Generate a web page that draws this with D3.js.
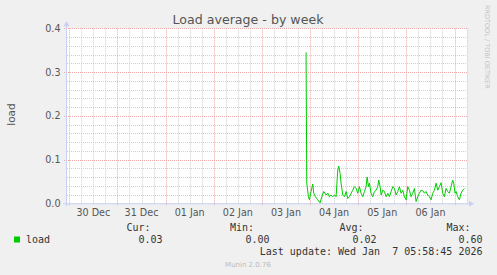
<!DOCTYPE html>
<html><head><meta charset="utf-8">
<script src="https://cdn.jsdelivr.net/npm/d3@7/dist/d3.min.js"></script>
<style>html,body{margin:0;padding:0;background:#f0f0f0;}svg{display:block;}</style>
</head><body>
<script>
// ---- data ----
const title = "Load average - by week";
const dayLabels = ["30 Dec","31 Dec","01 Jan","02 Jan","03 Jan","04 Jan","05 Jan","06 Jan"];
const yTicks = [0.0, 0.1, 0.2, 0.3, 0.4];
// hours since 2026-01-03 00:00
const hours = [22.0,22.35,23.18,23.68,24.51,25.34,25.84,26.67,27.83,29.0,29.83,30.82,31.99,32.82,33.65,34.48,35.31,36.14,36.97,37.8,38.3,38.97,39.47,40.3,41.13,41.96,42.79,43.62,44.45,45.28,46.11,46.94,47.77,48.6,49.43,50.26,51.1,51.93,52.43,53.1,53.59,54.42,55.25,56.08,56.91,57.74,58.24,58.91,59.41,60.24,61.07,61.9,62.73,63.56,64.39,65.22,66.05,66.88,67.71,68.54,69.37,70.2,71.03,71.86,72.69,73.52,74.35,75.18,76.01,76.84,77.67,78.5,79.33,80.16,80.99,81.82,82.65,83.48,84.31,85.14,85.97,86.8,87.63,88.46,89.29,90.12,90.95,91.78,92.61,93.44,94.27,95.1,95.6,96.26,96.76,97.59,98.42,99.25,100.08,100.91];
const loads = [0.345,0.046,0.015,0.008,0.027,0.044,0.023,0.015,0.008,0.001,0.015,0.027,0.019,0.023,0.015,0.019,0.015,0.019,0.015,0.076,0.085,0.068,0.046,0.019,0.015,0.027,0.011,0.015,0.023,0.030,0.038,0.034,0.023,0.038,0.023,0.015,0.027,0.038,0.060,0.038,0.046,0.023,0.015,0.027,0.030,0.038,0.053,0.038,0.019,0.030,0.027,0.015,0.023,0.015,0.027,0.038,0.034,0.019,0.027,0.038,0.023,0.030,0.015,0.008,0.038,0.030,0.015,0.023,0.034,0.004,0.015,0.023,0.030,0.029,0.023,0.027,0.019,0.015,0.008,0.023,0.030,0.046,0.030,0.038,0.047,0.023,0.015,0.034,0.027,0.023,0.038,0.053,0.046,0.023,0.027,0.015,0.008,0.023,0.030,0.034];
const legendName = "load";
const statLabels = ["Cur:","Min:","Avg:","Max:"];
const statValues = ["0.03","0.00","0.02","0.60"];
const lastUpdate = "Last update: Wed Jan  7 05:58:45 2026";
const version = "Munin 2.0.76";
const watermark = "RRDTOOL / TOBI OETIKER";

// ---- layout ----
const W = 497, H = 275;
const L = 67, R = 467, T = 28.3, B = 203.3;
const svg = d3.select("body").append("svg").attr("width", W).attr("height", H);
svg.append("rect").attr("width", W).attr("height", H).attr("fill", "#f0f0f0");

const base = new Date(Date.UTC(2026,0,3,0,0,0));
const hr = h => new Date(base.getTime() + h*3600e3);
const x = d3.scaleUtc().domain([new Date(Date.UTC(2025,11,29,22,51)), new Date(Date.UTC(2026,0,7,6,13))]).range([L, R]);
const y = d3.scaleLinear().domain([0, 0.4]).range([B, T]);

svg.append("rect").attr("x", L).attr("y", T).attr("width", R-L).attr("height", B-T).attr("fill", "#fff");

// minor grid
const minorX = d3.utcHour.every(6).range(x.domain()[0], x.domain()[1]).filter(d => d.getUTCHours() !== 0);
const majorX = d3.utcDay.range(x.domain()[0], x.domain()[1]);
const minorY = d3.range(0.02, 0.401, 0.02).filter(v => Math.abs(v*10 - Math.round(v*10)) > 1e-6);
const g = svg.append("g");
g.selectAll(".mx").data(minorX).join("line")
  .attr("x1", d => Math.round(x(d))+0.5).attr("x2", d => Math.round(x(d))+0.5).attr("y1", T).attr("y2", B)
  .attr("stroke", "#cfcfcf").attr("stroke-dasharray", "1,1");
g.selectAll(".my").data(minorY).join("line")
  .attr("y1", d => Math.round(y(d))+0.5).attr("y2", d => Math.round(y(d))+0.5).attr("x1", L).attr("x2", R)
  .attr("stroke", "#cfcfcf").attr("stroke-dasharray", "1,1");
g.selectAll(".Mx").data(majorX).join("line")
  .attr("x1", d => Math.round(x(d))+0.5).attr("x2", d => Math.round(x(d))+0.5).attr("y1", T).attr("y2", B+3)
  .attr("stroke", "#f0a8a8").attr("stroke-dasharray", "1,1");
g.selectAll(".My").data(yTicks.filter(v => v > 0)).join("line")
  .attr("y1", d => Math.round(y(d))+0.5).attr("y2", d => Math.round(y(d))+0.5).attr("x1", L-3).attr("x2", R)
  .attr("stroke", "#f0a8a8").attr("stroke-dasharray", "1,1");

// axes
const axc = "#c8cff0";
svg.append("line").attr("x1", L-0.5).attr("x2", L-0.5).attr("y1", B+3).attr("y2", T-4).attr("stroke", axc);
svg.append("path").attr("d", `M${L-3.5},${T-2} L${L-0.5},${T-7} L${L+2.5},${T-2} Z`).attr("fill", axc);
svg.append("line").attr("x1", L-4).attr("x2", R+3).attr("y1", B+0.5).attr("y2", B+0.5).attr("stroke", axc);
svg.append("path").attr("d", `M${R+2},${B-2.5} L${R+7},${B+0.5} L${R+2},${B+3.5} Z`).attr("fill", axc);

// y tick labels
svg.selectAll(".yl").data(yTicks).join("text")
  .attr("x", 60.5).attr("y", d => y(d)+3.5).attr("text-anchor", "end")
  .attr("font-family", "DejaVu Sans").attr("font-size", 9.6).attr("fill", "#555")
  .text(d => d.toFixed(1));
// x labels at noon
svg.selectAll(".xl").data(majorX.slice(0, dayLabels.length)).join("text")
  .attr("x", d => x(new Date(d.getTime()+12*3600e3))).attr("y", 216).attr("text-anchor", "middle")
  .attr("font-family", "DejaVu Sans").attr("font-size", 9.6).attr("fill", "#555")
  .text((d,i) => dayLabels[i]);

// y label
svg.append("text").attr("transform", "translate(14.5,114.5) rotate(-90)").attr("text-anchor", "middle")
  .attr("font-family", "DejaVu Sans").attr("font-size", 10.5).attr("fill", "#555").text("load");

// title
svg.append("text").attr("x", 248).attr("y", 24).attr("text-anchor", "middle")
  .attr("font-family", "DejaVu Sans").attr("font-size", 12.6).attr("fill", "#555").text(title);

// watermark
svg.append("text").attr("transform", "translate(485,5) rotate(90)")
  .attr("font-family", "DejaVu Sans").attr("font-size", 6.5).attr("fill", "#c4c4c4").text(watermark);

// line
const pts = hours.map((h,i) => [hr(h), loads[i]]);
svg.append("path").datum(pts)
  .attr("d", d3.line().x(d => x(d[0])).y(d => y(d[1])))
  .attr("fill", "none").attr("stroke", "#00cc00").attr("stroke-width", 1);

// legend
const mono = "DejaVu Sans Mono";
svg.append("rect").attr("x", 14).attr("y", 236.5).attr("width", 6).attr("height", 6).attr("fill", "#00cc00");
svg.append("text").attr("x", 26).attr("y", 243).attr("font-family", mono).attr("font-size", 10).attr("fill", "#333").text(legendName);
const labelEnds = [150.5, 254, 363.5, 470.5];
const valueEnds = [162.5, 269.5, 376.5, 482.5];
statLabels.forEach((s,i) => {
  svg.append("text").attr("x", labelEnds[i]).attr("y", 231).attr("text-anchor", "end")
    .attr("font-family", mono).attr("font-size", 10).attr("fill", "#333").text(s);
  svg.append("text").attr("x", valueEnds[i]).attr("y", 243).attr("text-anchor", "end")
    .attr("font-family", mono).attr("font-size", 10).attr("fill", "#333").text(statValues[i]);
});
svg.append("text").attr("x", 482.5).attr("y", 255).attr("text-anchor", "end").attr("xml:space", "preserve")
  .style("white-space", "pre")
  .attr("font-family", mono).attr("font-size", 10).attr("fill", "#333").text(lastUpdate);
svg.append("text").attr("x", 248).attr("y", 267).attr("text-anchor", "middle")
  .attr("font-family", "DejaVu Sans").attr("font-size", 7).attr("fill", "#bbb").text(version);
</script>
</body></html>
